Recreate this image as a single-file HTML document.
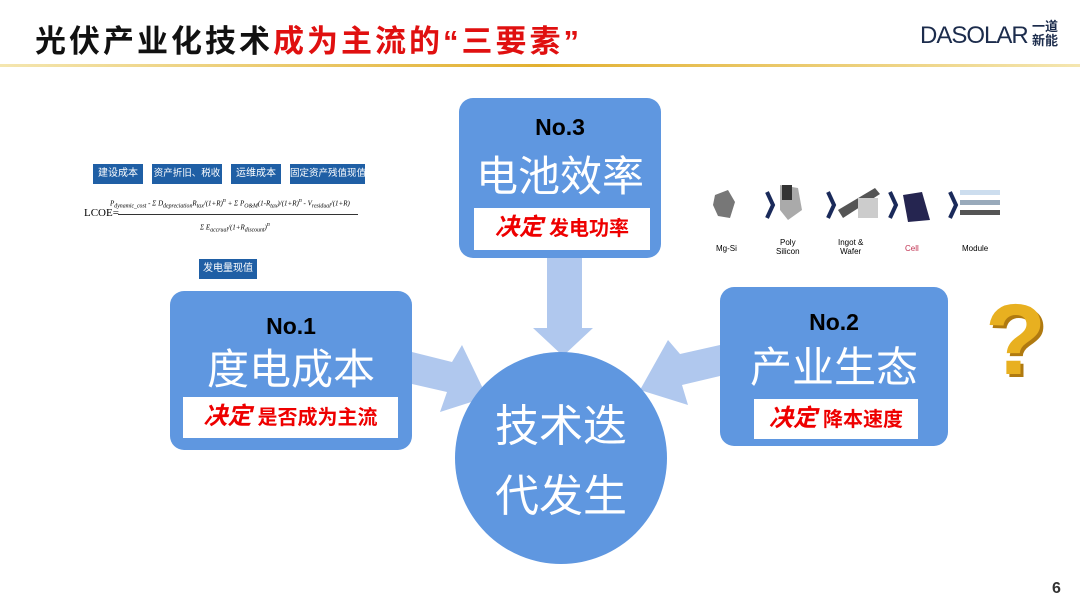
<!DOCTYPE html>
<html><head><meta charset="utf-8"><style>
body{margin:0;width:1080px;height:608px;background:#fff;position:relative;overflow:hidden;font-family:"Liberation Sans","Noto Sans CJK SC",sans-serif}
.abs{position:absolute}
.box{position:absolute;background:#5f97e0;border-radius:14px}
.no{position:absolute;left:0;right:0;text-align:center;font-weight:bold;font-size:23px;color:#000}
.big{position:absolute;left:0;right:0;text-align:center;color:#fff;font-size:42px;line-height:1}
.lab{position:absolute;background:#fff;color:#e00;font-weight:bold;font-size:20px;text-align:center;line-height:40px}
.lab i{font-size:24px;margin-right:6px}
.tag{position:absolute;background:#1f5fa5;color:#fff;font-size:10px;height:20px;line-height:20px;text-align:center;white-space:nowrap;overflow:hidden}
</style></head><body>
<div class="abs" style="left:35px;top:16px;font-size:31px;font-weight:bold;color:#111;letter-spacing:3px">光伏产业化技术<span style="color:#e01010">成为主流的“三要素”</span></div>
<div class="abs" style="left:920px;top:22px;font-size:24px;color:#1c2c4c;letter-spacing:-1px">DASOLAR</div>
<div class="abs" style="left:1032px;top:20px;font-size:13px;line-height:14px;color:#1c2c4c;font-weight:bold">一道<br>新能</div>
<div class="abs" style="left:0;top:64px;width:1080px;height:3px;background:linear-gradient(90deg,#f4e6b0,#e2b030 50%,#f4e6b0)"></div>

<svg class="abs" style="left:0;top:0" width="1080" height="608">
<polygon points="547,258 582,258 582,328 593,328 563,356 533,328 547,328" fill="#b0c8ee"/>
<polygon points="412,352 452,362 462,345 487,397 440,412 447,392 412,384" fill="#b0c8ee"/>
<polygon points="720,345 680,354 668,340 640,390 688,405 682,385 720,376" fill="#b0c8ee"/>
<circle cx="561" cy="458" r="106" fill="#5f97e0"/>
</svg>
<div class="abs" style="left:455px;top:392px;width:212px;text-align:center;color:#fff;font-size:44px;line-height:70px">技术迭<br>代发生</div>

<div class="box" style="left:459px;top:98px;width:202px;height:160px">
<div class="no" style="top:16px">No.3</div>
<div class="big" style="top:58px">电池效率</div>
<div class="lab" style="left:15px;top:110px;width:176px;height:42px"><i>决定</i>发电功率</div>
</div>
<div class="box" style="left:170px;top:291px;width:242px;height:159px">
<div class="no" style="top:22px">No.1</div>
<div class="big" style="top:58px">度电成本</div>
<div class="lab" style="left:13px;top:106px;width:215px;height:41px"><i>决定</i>是否成为主流</div>
</div>
<div class="box" style="left:720px;top:287px;width:228px;height:159px">
<div class="no" style="top:22px">No.2</div>
<div class="big" style="top:60px">产业生态</div>
<div class="lab" style="left:34px;top:112px;width:164px;height:40px"><i>决定</i>降本速度</div>
</div>

<div class="tag" style="left:93px;top:164px;width:50px">建设成本</div>
<div class="tag" style="left:152px;top:164px;width:70px;font-size:9.5px">资产折旧、税收</div>
<div class="tag" style="left:231px;top:164px;width:50px">运维成本</div>
<div class="tag" style="left:290px;top:164px;width:75px;font-size:9.5px">固定资产残值现值</div>
<div class="tag" style="left:199px;top:259px;width:58px">发电量现值</div>
<div class="abs" style="left:84px;top:207px;font-family:'Liberation Serif',serif;font-size:11px">LCOE=</div>
<div class="abs" style="left:118px;top:214px;width:240px;height:1px;background:#333"></div>
<div class="abs" style="left:110px;top:198px;font-family:'Liberation Serif',serif;font-style:italic;font-size:7px;white-space:nowrap">P<sub>dynamic_cost</sub> - Σ D<sub>depreciation</sub>R<sub>tax</sub>/(1+R)<sup>n</sup> + Σ P<sub>O&amp;M</sub>(1-R<sub>tax</sub>)/(1+R)<sup>n</sup> - V<sub>residual</sub>/(1+R)</div>
<div class="abs" style="left:200px;top:222px;font-family:'Liberation Serif',serif;font-style:italic;font-size:7px">Σ E<sub>accrual</sub>/(1+R<sub>discount</sub>)<sup>n</sup></div>

<svg class="abs" style="left:710px;top:180px" width="330" height="50">
<polygon points="5,15 18,10 25,22 20,38 8,36 3,25" fill="#777"/>
<path d="M57,12 L63,25 L57,38" stroke="#1a2a5a" stroke-width="4" fill="none"/>
<polygon points="70,5 88,8 92,30 78,40 70,30" fill="#aaa"/><rect x="72" y="5" width="10" height="15" fill="#333"/>
<path d="M118,12 L124,25 L118,38" stroke="#1a2a5a" stroke-width="4" fill="none"/>
<polygon points="128,30 165,8 170,14 133,38" fill="#555"/><rect x="148" y="18" width="20" height="20" fill="#ccc"/>
<path d="M180,12 L186,25 L180,38" stroke="#1a2a5a" stroke-width="4" fill="none"/>
<polygon points="193,15 212,12 220,40 198,42" fill="#252550"/>
<path d="M240,12 L246,25 L240,38" stroke="#1a2a5a" stroke-width="4" fill="none"/>
<rect x="250" y="10" width="40" height="5" fill="#cde"/><rect x="250" y="20" width="40" height="5" fill="#9ab"/><rect x="250" y="30" width="40" height="5" fill="#555"/>
</svg>
<div class="abs" style="left:716px;top:244px;font-size:8px">Mg-Si</div>
<div class="abs" style="left:776px;top:238px;font-size:8px;text-align:center">Poly<br>Silicon</div>
<div class="abs" style="left:838px;top:238px;font-size:8px;text-align:center">Ingot &amp;<br>Wafer</div>
<div class="abs" style="left:905px;top:244px;font-size:8px;color:#c03050">Cell</div>
<div class="abs" style="left:962px;top:244px;font-size:8px">Module</div>

<div class="abs" style="left:985px;top:290px;font-size:100px;font-weight:bold;color:#e8b020;text-shadow:3px 3px 0 #b07a10;line-height:1">?</div>
<div class="abs" style="left:1052px;top:580px;font-size:16px;font-weight:bold;color:#333">6</div>
</body></html>
